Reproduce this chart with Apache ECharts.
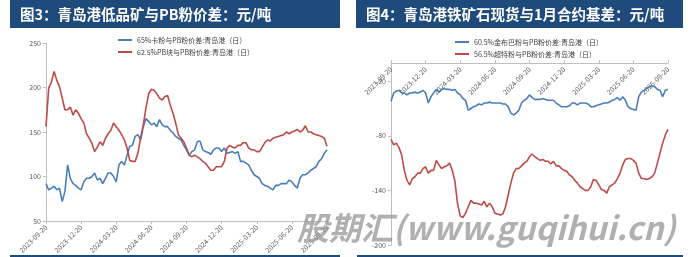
<!DOCTYPE html>
<html><head><meta charset="utf-8">
<script src="https://cdn.jsdelivr.net/npm/echarts@6/dist/echarts.min.js"></script>
<style>html,body{margin:0;padding:0;background:#fff}#c{width:698px;height:257px}</style>
</head><body><div id="c"></div>
<script>
const tickLabels = ['2023-09-20','2023-12-20','2024-03-20','2024-06-20','2024-09-20','2024-12-20','2025-03-20','2025-06-20','2025-09-20'];
const weeksPerQuarter = 13;

const name3a = '65%卡粉与PB粉价差:青岛港（日）';
const name3b = '62.5%PB块与PB粉价差:青岛港（日）';
const name4a = '60.5%金布巴粉与PB粉价差:青岛港（日）';
const name4b = '56.5%超特粉与PB粉价差:青岛港（日）';

const kaFen = [92,85,87,89,85,87,72,83,113,98,
 92,90,87,85,94,98,98,100,104,96,
 98,92,98,104,104,100,94,113,117,113,
 124,134,135,145,147,141,156,165,162,158,
 160,156,164,158,156,156,152,149,145,143,
 141,135,130,124,128,130,139,140,130,128,
 127,125,130,132,132,128,132,126,127,
 128,126,128,117,117,115,113,107,102,100,
 98,92,90,89,87,85,90,90,92,92,
 92,96,94,90,87,98,102,102,104,107,
 109,111,117,120,126,130];

const pbKuai = [156,199,206,218,208,201,188,175,175,178,
 169,175,171,165,160,148,143,137,128,133,
 139,135,143,148,152,160,156,152,147,141,
 132,118,117,117,126,143,158,177,193,198,
 197,193,188,186,190,191,180,171,160,147,
 143,139,132,124,122,124,122,120,117,115,
 111,107,107,111,111,111,117,132,135,133,
 132,135,135,138,138,132,130,130,128,128,
 133,138,141,140,143,144,145,146,147,150,
 148,150,151,153,150,152,157,150,150,148,
 147,146,145,143,134];

const jinBuBa = [-42,-33,-31,-30,-33,-33,-35,-33,-33,-32,
 -33,-32,-30,-33,-44,-37,-33,-29,-32,-29,
 -28,-29,-29,-30,-29,-33,-35,-39,-41,-52,
 -50,-48,-47,-45,-46,-44,-44,-43,-44,-44,
 -44,-44,-45,-45,-48,-55,-57,-55,-52,-44,
 -41,-39,-35,-38,-40,-40,-40,-39,-40,-41,
 -41,-41,-44,-46,-48,-48,-48,-47,-44,-44,
 -46,-44,-44,-44,-45,-48,-48,-47,-46,-45,
 -44,-44,-43,-41,-40,-38,-41,-37,-41,-48,
 -50,-51,-52,-37,-32,-30,-28,-26,-25,-26,
 -29,-30,-37,-30,-29];

const chaoTe = [-84,-90,-88,-93,-101,-118,-129,-134,-127,-125,
 -121,-121,-116,-114,-121,-118,-118,-107,-112,-116,
 -114,-113,-110,-118,-130,-155,-168,-170,-165,-158,
 -151,-154,-154,-155,-156,-152,-158,-154,-158,-165,
 -166,-167,-166,-158,-145,-132,-121,-116,-116,-113,
 -110,-108,-103,-100,-103,-105,-107,-106,-108,-108,
 -111,-108,-113,-113,-116,-118,-119,-123,-125,-129,
 -132,-136,-138,-140,-140,-136,-128,-129,-134,-139,
 -140,-143,-136,-134,-132,-127,-121,-112,-106,-105,
 -105,-107,-110,-121,-127,-127,-128,-127,-125,-121,
 -110,-99,-88,-79,-73];

const nPts = (tickLabels.length - 1) * weeksPerQuarter + 1;
const categories = Array.from({length: nPts}, (_, i) => 'w' + i);
const fmt = (v, i) => (i % weeksPerQuarter === 0 ? tickLabels[i / weeksPerQuarter] : '');

const FONT = '"Noto Sans CJK SC", "Noto Sans", sans-serif';
const BLUE = '#4A7EBB', RED = '#BE4B48', NAVY = '#1F4A7C', AX = '#BFBFBF', TX = '#595959';

const chart = echarts.init(document.getElementById('c'), null, {renderer: 'canvas'});
const xBase = (gi, inside, offset) => ({
  type: 'category', gridIndex: gi, data: categories, boundaryGap: false, position: 'bottom', offset: offset,
  axisLine: {show: true, onZero: false, lineStyle: {color: AX, width: 1}},
  axisTick: {show: true, interval: weeksPerQuarter - 1, length: 3, inside: inside, lineStyle: {color: AX}},
  axisLabel: {interval: weeksPerQuarter - 1, formatter: fmt, rotate: 45, fontSize: 7, color: TX, fontFamily: FONT, margin: 5},
  splitLine: {show: false}
});
chart.setOption({
  animation: false,
  textStyle: {fontFamily: FONT},
  grid: [
    {left: 46, top: 43, width: 281, height: 178},
    {left: 391, top: 63, width: 277, height: 182}
  ],
  xAxis: [xBase(0, false, 0), xBase(1, true, -182)],
  yAxis: [
    {type: 'value', gridIndex: 0, min: 50, max: 250, interval: 50,
     axisLine: {show: true, lineStyle: {color: AX}},
     axisTick: {show: true, length: 3, lineStyle: {color: AX}},
     axisLabel: {fontSize: 7, color: TX, margin: 5, fontFamily: FONT},
     splitLine: {show: false}},
    {type: 'value', gridIndex: 1, min: -200, max: 0, interval: 60,
     axisLine: {show: true, lineStyle: {color: AX}},
     axisTick: {show: true, length: 3, lineStyle: {color: AX}},
     axisLabel: {fontSize: 7, color: TX, margin: 5, fontFamily: FONT, showMaxLabel: false},
     splitLine: {show: false}}
  ],
  legend: [
    {data: [name3a, name3b], orient: 'vertical', left: 118, top: 36, padding: 0,
     icon: 'rect', itemWidth: 14, itemHeight: 2, itemGap: 4,
     textStyle: {fontSize: 7, color: '#404040', lineHeight: 8, fontFamily: FONT}},
    {data: [name4a, name4b], orient: 'vertical', left: 455, top: 38, padding: 0,
     icon: 'rect', itemWidth: 14, itemHeight: 2, itemGap: 4,
     textStyle: {fontSize: 7, color: '#404040', lineHeight: 8, fontFamily: FONT}}
  ],
  series: [
    {name: name3a, type: 'line', xAxisIndex: 0, yAxisIndex: 0, data: kaFen, showSymbol: false, symbol: 'none', lineStyle: {color: BLUE, width: 1.6}, itemStyle: {color: BLUE}},
    {name: name3b, type: 'line', xAxisIndex: 0, yAxisIndex: 0, data: pbKuai, showSymbol: false, symbol: 'none', lineStyle: {color: RED, width: 1.6}, itemStyle: {color: RED}},
    {name: name4a, type: 'line', xAxisIndex: 1, yAxisIndex: 1, data: jinBuBa, showSymbol: false, symbol: 'none', lineStyle: {color: BLUE, width: 1.6}, itemStyle: {color: BLUE}},
    {name: name4b, type: 'line', xAxisIndex: 1, yAxisIndex: 1, data: chaoTe, showSymbol: false, symbol: 'none', lineStyle: {color: RED, width: 1.6}, itemStyle: {color: RED}}
  ],
  graphic: [
    {type: 'rect', shape: {x: 10, y: 0, width: 330, height: 28}, style: {fill: NAVY}, z: 10},
    {type: 'rect', shape: {x: 356, y: 0, width: 327, height: 28}, style: {fill: NAVY}, z: 10},
    {type: 'text', x: 20, y: 14, z: 11, style: {text: '图3：青岛港低品矿与PB粉价差：元/吨', fill: '#fff', font: 'bold 14.5px "Noto Sans CJK SC"', textVerticalAlign: 'middle'}},
    {type: 'text', x: 366, y: 14, z: 11, style: {text: '图4：青岛港铁矿石现货与1月合约基差：元/吨', fill: '#fff', font: 'bold 14.5px "Noto Sans CJK SC"', textVerticalAlign: 'middle'}},
    {type: 'rect', shape: {x: 10, y: 255, width: 330, height: 2}, style: {fill: NAVY}, z: 10},
    {type: 'rect', shape: {x: 357, y: 255, width: 326, height: 2}, style: {fill: NAVY}, z: 10},
    {type: 'text', x: 297, y: 228, z: 20, style: {text: '股期汇(www.guqihui.cn)', fill: 'rgba(150,150,150,0.75)', font: 'italic bold 32px "Noto Sans CJK SC"', textVerticalAlign: 'middle'}}
  ]
});
</script></body></html>
